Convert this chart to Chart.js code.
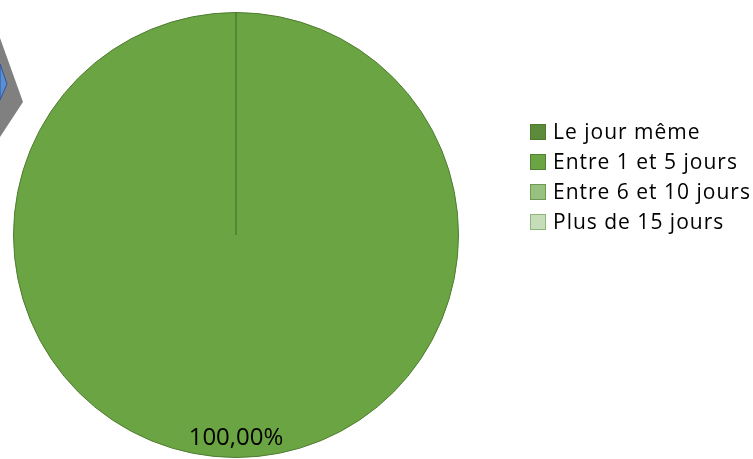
<!DOCTYPE html>
<html>
<head>
<meta charset="utf-8">
<script src="https://cdn.jsdelivr.net/npm/chart.js@4.4.0/dist/chart.umd.min.js"></script>
<style>
  html, body { margin: 0; padding: 0; background: #fff; }
  #wrap { width: 753px; height: 459px; position: relative; }
</style>
</head>
<body>
<div id="wrap"><canvas id="delai_graph" width="753" height="459"></canvas></div>
<script>
// categories and values (percent)
let categories = ['Le jour même', 'Entre 1 et 5 jours', 'Entre 6 et 10 jours', 'Plus de 15 jours'];
let values = [0, 100, 0, 0];
let colors = ['#5b8b3b', '#6aa443', '#97c17f', '#c6ddb9'];
let borders = ['#4e7a30', '#527f33', '#6d9a52', '#8fb57a'];

// grey/blue shape left over in the top-left corner of the picture
const cornerShape = {
    id: 'cornerShape',
    beforeDraw(chart) {
        let ctx = chart.ctx;
        ctx.save();
        ctx.fillStyle = '#808080';
        ctx.beginPath();
        ctx.moveTo(0, 38);
        ctx.lineTo(23, 102);
        ctx.lineTo(0, 137);
        ctx.closePath();
        ctx.fill();
        ctx.fillStyle = '#5b8fd4';
        ctx.strokeStyle = '#2f5597';
        ctx.lineWidth = 1;
        ctx.beginPath();
        ctx.moveTo(0, 64);
        ctx.lineTo(7, 84);
        ctx.lineTo(0, 100);
        ctx.closePath();
        ctx.fill();
        ctx.stroke();
        ctx.restore();
    }
};

// legend on the right, drawn like the excel one
const sideLegend = {
    id: 'sideLegend',
    afterDraw(chart) {
        let ctx = chart.ctx;
        let ds = chart.data.datasets[0];
        ctx.save();
        ctx.font = '21px "Open Sans"';
        ctx.letterSpacing = '1px';
        ctx.textBaseline = 'middle';
        chart.data.labels.forEach(function(lab, i) {
            let y = 132 + i * 30;
            ctx.fillStyle = ds.backgroundColor[i];
            ctx.strokeStyle = ds.legendBorder[i];
            ctx.lineWidth = 1;
            ctx.fillRect(530.5, y - 7.5, 15, 15);
            ctx.strokeRect(530.5, y - 7.5, 15, 15);
            ctx.fillStyle = '#000';
            ctx.fillText(lab, 553, y + 1);
        });
        ctx.restore();
    }
};

// percent label inside the slice
const pctLabels = {
    id: 'pctLabels',
    afterDatasetsDraw(chart) {
        let ctx = chart.ctx;
        let data = chart.data.datasets[0].data;
        let total = data.reduce((a, b) => a + b, 0);
        let meta = chart.getDatasetMeta(0);
        ctx.save();
        ctx.font = '24px "Open Sans"';
        ctx.fillStyle = '#000';
        ctx.textAlign = 'center';
        ctx.textBaseline = 'middle';
        meta.data.forEach(function(arc, i) {
            if (!data[i]) return;
            let p = arc.getProps(['x', 'y', 'startAngle', 'endAngle', 'outerRadius'], true);
            let mid = (p.startAngle + p.endAngle) / 2;
            let r = p.outerRadius * 0.915;
            let txt = (data[i] / total * 100).toFixed(2).replace('.', ',') + '%';
            ctx.fillText(txt, p.x + Math.cos(mid) * r, p.y + Math.sin(mid) * r);
        });
        ctx.restore();
    }
};

let delai = document.getElementById('delai_graph').getContext('2d');
window.delai_chart = new Chart(delai, {
    type: 'pie',
    data: {
        labels: categories,
        datasets: [{
            data: values,
            backgroundColor: colors,
            borderColor: '#4f7c31',
            borderWidth: 1,
            legendBorder: borders
        }]
    },
    options: {
        responsive: false,
        animation: false,
        layout: { padding: { left: 13, top: 12, right: 294, bottom: 1 } },
        plugins: {
            legend: { display: false },
            tooltip: { enabled: false }
        }
    },
    plugins: [cornerShape, pctLabels, sideLegend]
});
</script>
</body>
</html>
